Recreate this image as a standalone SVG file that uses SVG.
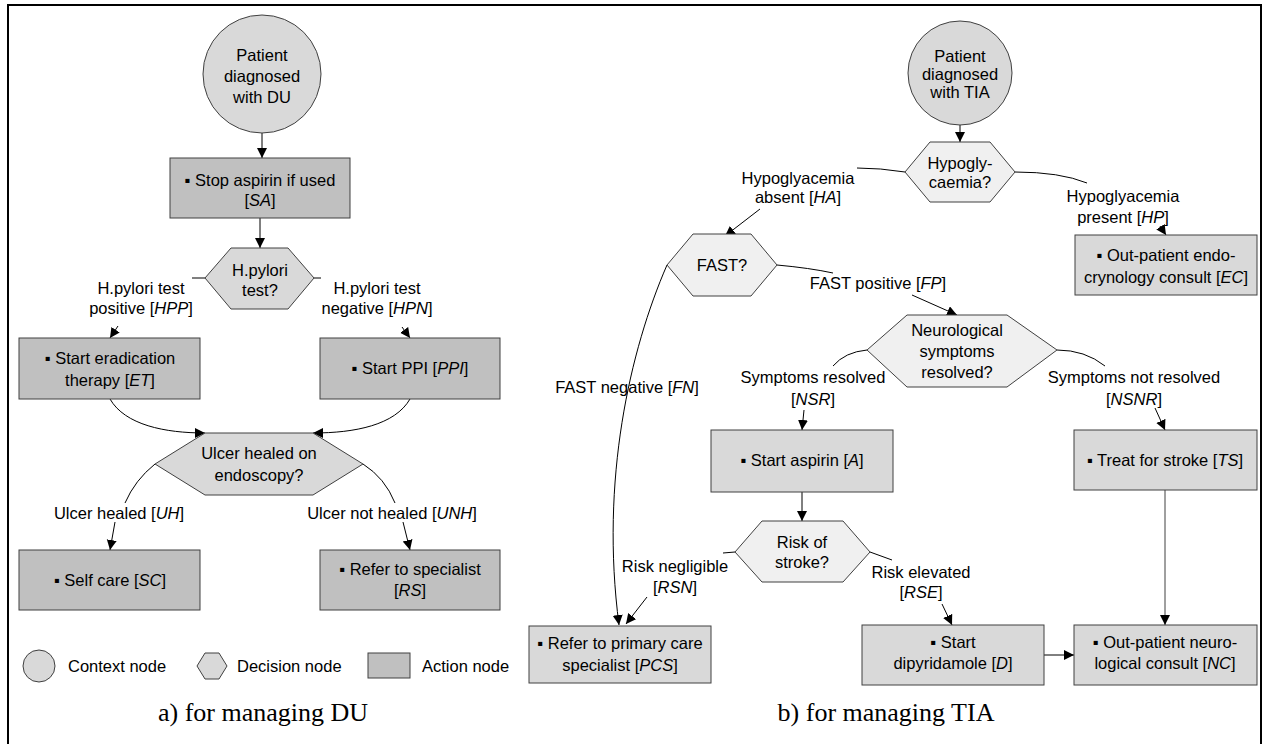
<svg xmlns="http://www.w3.org/2000/svg" width="1266" height="744" viewBox="0 0 1266 744">
<defs>
<style>
.t{font-family:"Liberation Sans",Arial,"DejaVu Sans",sans-serif;font-size:16.5px;fill:#000;text-anchor:middle}
.tl{font-family:"Liberation Sans",Arial,"DejaVu Sans",sans-serif;font-size:16.5px;fill:#000}
.cap{font-family:"Liberation Serif","Times New Roman",serif;font-size:26px;fill:#000;text-anchor:middle}
.ctx{fill:#d9d9d9;stroke:#404040;stroke-width:1}
.decL{fill:#d9d9d9;stroke:#404040;stroke-width:1}
.decR{fill:#f0f0f0;stroke:#404040;stroke-width:1}
.actL{fill:#c0c0c0;stroke:#404040;stroke-width:1}
.actR{fill:#d9d9d9;stroke:#404040;stroke-width:1}
.c{fill:none;stroke:#000;stroke-width:1}
.a{fill:none;stroke:#000;stroke-width:1;marker-end:url(#ah)}
.g{stroke:#404040}
</style>
<marker id="ah" markerUnits="userSpaceOnUse" markerWidth="11" markerHeight="11" refX="10" refY="5" orient="auto">
<path d="M0,0 L10,5 L0,10 z" fill="#000"/>
</marker>
</defs>
<rect x="8" y="5" width="1253" height="745" fill="#fff" stroke="#000" stroke-width="2"/>

<g id="connectors">
<path class="a" d="M262,133 L262,158"/>
<path class="a" d="M260,218 L260,248"/>
<path class="c" d="M205,278 L192,278"/>
<path class="a" d="M118,326 L110,338"/>
<path class="c" d="M314,278 L321,278"/>
<path class="a" d="M402,327 L410,338"/>
<path class="a" d="M110,399 C125,425 165,433 205,433"/>
<path class="a" d="M410,399 C395,425 355,433 313,433"/>
<path class="c" d="M155,464 Q135,480 125,503"/>
<path class="a" d="M115,522 L110,550"/>
<path class="c" d="M363,464 Q385,478 395,503"/>
<path class="a" d="M403,522 L410,550"/>
<path class="a" d="M960,125 L960,142"/>
<path class="c" d="M905,172 Q880,168 857,168"/>
<path class="a" d="M760,209 L725,236"/>
<path class="c" d="M1015,172 Q1060,172 1087,183"/>
<path class="a" d="M1160,226 L1166,235"/>
<path class="c" d="M777,265 Q810,268 833,273"/>
<path class="a" d="M912,295 L957,315"/>
<path class="a" d="M667,265 C630,350 600,480 619,625"/>
<path class="c" d="M867,350 Q845,352 833,366"/>
<path class="a" d="M804,410 L802,430"/>
<path class="c" d="M1057,350 Q1085,350 1105,366"/>
<path class="a" d="M1155,408 L1165,430"/>
<path class="a" d="M802,492 L802,521"/>
<path class="c" d="M735,552 L723,553"/>
<path class="a" d="M647,597 L626,624"/>
<path class="c" d="M870,552 L892,560"/>
<path class="a" d="M942,604 L952,625"/>
<path class="a" d="M1044,655 L1074,655"/>
<path class="a g" d="M1165,490 L1165,625"/>
</g>

<g id="labels">
<text class="t" x="141" y="294">H.pylori test</text>
<text class="t" x="141" y="314">positive [<tspan font-style="italic">HPP</tspan>]</text>
<text class="t" x="377" y="294">H.pylori test</text>
<text class="t" x="377" y="314">negative [<tspan font-style="italic">HPN</tspan>]</text>
<text class="t" x="119" y="519">Ulcer healed [<tspan font-style="italic">UH</tspan>]</text>
<text class="t" x="392" y="519">Ulcer not healed [<tspan font-style="italic">UNH</tspan>]</text>
<text class="t" x="798" y="184">Hypoglyacemia</text>
<text class="t" x="798" y="203">absent [<tspan font-style="italic">HA</tspan>]</text>
<text class="t" x="1123" y="202">Hypoglyacemia</text>
<text class="t" x="1123" y="223">present [<tspan font-style="italic">HP</tspan>]</text>
<text class="t" x="878" y="289">FAST positive [<tspan font-style="italic">FP</tspan>]</text>
<text class="t" x="627" y="393">FAST negative [<tspan font-style="italic">FN</tspan>]</text>
<text class="t" x="813" y="383">Symptoms resolved</text>
<text class="t" x="813" y="405">[<tspan font-style="italic">NSR</tspan>]</text>
<text class="t" x="1134" y="383">Symptoms not resolved</text>
<text class="t" x="1134" y="405">[<tspan font-style="italic">NSNR</tspan>]</text>
<text class="t" x="675" y="572">Risk negligible</text>
<text class="t" x="675" y="593">[<tspan font-style="italic">RSN</tspan>]</text>
<text class="t" x="921" y="578">Risk elevated</text>
<text class="t" x="921" y="598">[<tspan font-style="italic">RSE</tspan>]</text>
</g>

<g id="du-context">
<circle class="ctx" cx="262" cy="74" r="59"/>
<text class="t" x="262" y="61">Patient</text>
<text class="t" x="262" y="82">diagnosed</text>
<text class="t" x="262" y="103">with DU</text>
</g>
<g id="SA">
<rect class="actL" x="170" y="158" width="180" height="60"/>
<text class="t" x="260" y="186">▪ Stop aspirin if used</text>
<text class="t" x="260" y="206">[<tspan font-style="italic">SA</tspan>]</text>
</g>
<g id="hpylori">
<polygon class="decL" points="205,278 231,248 288,248 314,278 288,309 231,309"/>
<text class="t" x="260" y="276">H.pylori</text>
<text class="t" x="260" y="296">test?</text>
</g>
<g id="ET">
<rect class="actL" x="19" y="338" width="181" height="61"/>
<text class="t" x="110" y="364">▪ Start eradication</text>
<text class="t" x="110" y="386">therapy [<tspan font-style="italic">ET</tspan>]</text>
</g>
<g id="PPI">
<rect class="actL" x="320" y="338" width="180" height="61"/>
<text class="t" x="410" y="374">▪ Start PPI [<tspan font-style="italic">PPI</tspan>]</text>
</g>
<g id="ulcer">
<polygon class="decL" points="155,464 205,433 313,433 363,464 313,495 205,495"/>
<text class="t" x="259" y="459">Ulcer healed on</text>
<text class="t" x="259" y="481">endoscopy?</text>
</g>
<g id="SC">
<rect class="actL" x="19" y="550" width="181" height="60"/>
<text class="t" x="110" y="586">▪ Self care [<tspan font-style="italic">SC</tspan>]</text>
</g>
<g id="RS">
<rect class="actL" x="320" y="550" width="180" height="60"/>
<text class="t" x="410" y="575">▪ Refer to specialist</text>
<text class="t" x="410" y="596">[<tspan font-style="italic">RS</tspan>]</text>
</g>

<g id="legend">
<circle class="ctx" cx="39" cy="666" r="16"/>
<text class="tl" x="68" y="672">Context node</text>
<polygon class="decL" points="197,666 205,653 219,653 227,666 219,679 205,679"/>
<text class="tl" x="237" y="672">Decision node</text>
<rect class="actL" x="368" y="653" width="42" height="25"/>
<text class="tl" x="422" y="672">Action node</text>
</g>

<g id="tia-context">
<circle class="ctx" cx="960" cy="73" r="52"/>
<text class="t" x="960" y="62">Patient</text>
<text class="t" x="960" y="80">diagnosed</text>
<text class="t" x="960" y="98">with TIA</text>
</g>
<g id="hypo">
<polygon class="decR" points="905,172 930,142 990,142 1015,172 990,202 930,202"/>
<text class="t" x="960" y="169">Hypogly-</text>
<text class="t" x="960" y="188">caemia?</text>
</g>
<g id="EC">
<rect class="actR" x="1075" y="235" width="182" height="60"/>
<text class="t" x="1166" y="261">▪ Out-patient endo-</text>
<text class="t" x="1166" y="283">crynology consult [<tspan font-style="italic">EC</tspan>]</text>
</g>
<g id="fast">
<polygon class="decR" points="667,265 693,234 751,234 777,265 751,296 693,296"/>
<text class="t" x="722" y="271">FAST?</text>
</g>
<g id="neuro">
<polygon class="decR" points="867,350 907,315 1007,315 1057,350 1007,387 907,387"/>
<text class="t" x="957" y="336">Neurological</text>
<text class="t" x="957" y="357">symptoms</text>
<text class="t" x="957" y="378">resolved?</text>
</g>
<g id="A">
<rect class="actR" x="711" y="430" width="182" height="62"/>
<text class="t" x="802" y="466">▪ Start aspirin [<tspan font-style="italic">A</tspan>]</text>
</g>
<g id="TS">
<rect class="actR" x="1074" y="430" width="183" height="60"/>
<text class="t" x="1165" y="466">▪ Treat for stroke [<tspan font-style="italic">TS</tspan>]</text>
</g>
<g id="risk">
<polygon class="decR" points="735,552 762,521 843,521 870,552 843,582 762,582"/>
<text class="t" x="802" y="548">Risk of</text>
<text class="t" x="802" y="568">stroke?</text>
</g>
<g id="PCS">
<rect class="actR" x="529" y="626" width="182" height="57"/>
<text class="t" x="620" y="649">▪ Refer to primary care</text>
<text class="t" x="620" y="671">specialist [<tspan font-style="italic">PCS</tspan>]</text>
</g>
<g id="D">
<rect class="actR" x="862" y="625" width="182" height="60"/>
<text class="t" x="953" y="648">▪ Start</text>
<text class="t" x="953" y="669">dipyridamole [<tspan font-style="italic">D</tspan>]</text>
</g>
<g id="NC">
<rect class="actR" x="1074" y="625" width="183" height="60"/>
<text class="t" x="1165" y="648">▪ Out-patient neuro-</text>
<text class="t" x="1165" y="669">logical consult [<tspan font-style="italic">NC</tspan>]</text>
</g>

<g id="captions">
<text class="cap" x="263" y="721">a) for managing DU</text>
<text class="cap" x="886" y="721">b) for managing TIA</text>
</g>
</svg>
